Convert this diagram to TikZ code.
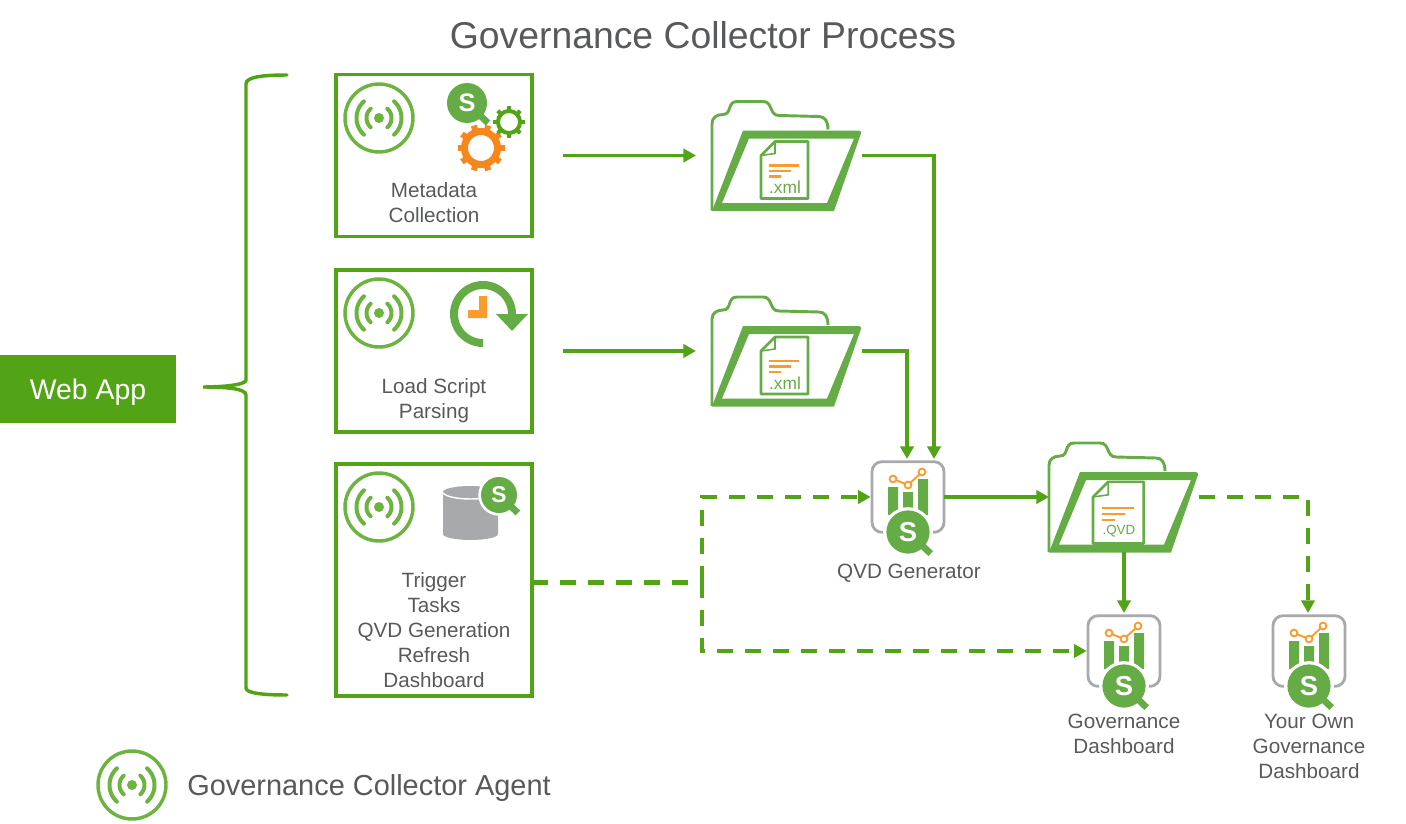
\documentclass[tikz,border=0pt]{standalone}
\usepackage{fontspec}
\setmainfont{Liberation Sans}
\usetikzlibrary{arrows.meta}
\definecolor{lineGreen}{HTML}{52A315}
\definecolor{iconGreen}{HTML}{65AC46}
\definecolor{agentGreen}{HTML}{6CB33F}
\definecolor{iconOrange}{HTML}{F7861B}
\definecolor{chartOrange}{HTML}{F99B2D}
\definecolor{iconGrey}{HTML}{A7A9AC}
\definecolor{textGrey}{HTML}{58595B}
\tikzset{
	flow/.style={draw=lineGreen,line width=2.7pt,-{Triangle[length=9.5pt,width=10pt]}},
	dashflow/.style={flow,dash pattern=on 12pt off 9pt},
	stepbox/.style={draw=lineGreen,line width=2.7pt,minimum width=147pt,outer sep=0pt,inner sep=0pt},
	appbox/.style={draw=iconGrey,line width=2.1pt,rounded corners=7.5pt,minimum width=54pt,minimum height=53pt,outer sep=0pt,inner sep=0pt},
	folderbox/.style={minimum width=112.5pt,minimum height=82.5pt,outer sep=0pt,inner sep=0pt},
	label/.style={text=textGrey,font=\fontsize{15.5}{18.75}\selectfont,align=center},
	pics/agent/.style={code={
		\draw[agentGreen,line width=2.6pt] (0,0) circle (34);
		\fill[agentGreen] (0,0) circle (5);
		\foreach \r in {12.5,22.5}{
			\draw[agentGreen,line width=3pt,line cap=round] plot[domain=-48:48,samples=20] (\x:\r);
			\draw[agentGreen,line width=3pt,line cap=round] plot[domain=132:228,samples=20] (\x:\r);
		}
	}},
	pics/qmag/.style={code={
		\fill[white] (0,0) circle (23);
		\draw[iconGreen,line width=5pt] (0,0) -- (21,20);
		\fill[iconGreen] (0,0) circle (20);
		\node[text=white,font=\fontsize{19}{19}\bfseries\selectfont,transform shape,inner sep=0pt] (-s) at (0,0) {S};
	}},
	pics/gear/.style n args={4}{code={
		\draw[#1,line width=#2] (0,0) circle (16.5);
		\foreach \i in {1,...,#4}
			\draw[#1,line width=#3] ({\i*360/#4}:18) -- ({\i*360/#4}:23.5);
	}},
	pics/docfile/.style={code={
		\draw[iconGreen,line width=2pt,line join=round] (-26,0) -- (-12,-14) -- (21,-14) -- (21,43) -- (-26,43) -- cycle;
		\draw[iconGreen,line width=1.2pt] (-12,-14) -- (-12,-2) -- (-26,0);
		\draw[chartOrange,line width=1.6pt] (-18,10) -- (12,10) (-18,15.5) -- (4,15.5) (-18,21) -- (-6,21);
		\node[text=iconGreen,inner sep=0pt] (-ext) at (-2,32) {#1};
	}},
	pics/folder/.style={code={
		\draw[iconGreen,line width=2.2pt] (-75,55) -- (-75,-32) .. controls (-75,-38) and (-70,-41) .. (-64,-41) .. controls (-55,-41) and (-60,-54) .. (-50,-54) -- (-24,-54) .. controls (-14,-54) and (-18,-40) .. (-8,-40) -- (32,-39) .. controls (38,-39) and (41,-34) .. (41,-26);
		\fill[iconGreen,even odd rule] (-75,55.5) -- (-44,-25) [rounded corners=2.5pt] -- (75,-25) [sharp corners] -- (47,55.5) -- cycle (-65,47.5) -- (-38,-17) -- (67,-17) -- (40,47.5) -- cycle;
	}},
	pics/dash/.style={code={
		\fill[iconGreen] (-20,-10) rectangle (-10,18) (-5,-5) rectangle (5,18) (10,-18) rectangle (20,18);
		\draw[chartOrange,line width=1.4pt] (-15,-18) -- (0,-12) -- (14,-25);
		\draw[chartOrange,line width=1.4pt,fill=white] (-15,-18) circle (3.4) (0,-12) circle (3.4) (14,-25) circle (3.4);
		\pic[scale=1.08] (-mag) at (0,35) {qmag};
	}},
}
\begin{document}
\begin{tikzpicture}[x=0.75pt,y=-0.75pt]
	\useasboundingbox (0,0) rectangle (1406,824);
	\node[text=textGrey,font=\fontsize{28}{28}\selectfont] (title) at (703,35) {Governance Collector Process};

	\node[fill=lineGreen,text=white,font=\fontsize{21.3}{24}\selectfont,text depth=0pt,minimum width=132pt,minimum height=51pt,outer sep=0pt] (web) at (88,389) {Web App};
	\draw[lineGreen,line width=2.6pt,line cap=round] (287,75) .. controls (262,75) and (246,77) .. (246,84) -- (246,380) .. controls (246,385) and (222,387) .. (203,387) .. controls (222,387) and (246,388) .. (246,395) -- (246,688) .. controls (246,693) and (262,695) .. (287,695);

	\node[stepbox,minimum height=121.5pt] (meta) at (434,155.5) {};
	\node[stepbox,minimum height=121.5pt] (load) at (434,351) {};
	\node[stepbox,minimum height=174pt] (trigger) at (434,580) {};
	\node[label] (metaText) at (434,203) {Metadata\\Collection};
	\node[label] (loadText) at (434,400.5) {Load Script\\Parsing};
	\node[label] (triggerText) at (434,630) {Trigger\\Tasks\\QVD Generation\\Refresh\\Dashboard};

	\pic (metaAgent) at (379,118) {agent};
	\pic (loadAgent) at (379,313) {agent};
	\pic (triggerAgent) at (379,507) {agent};
	\pic (legendAgent) at (132,785) {agent};
	\node[text=textGrey,font=\fontsize{21.7}{24}\selectfont,text depth=0pt,anchor=west,inner sep=0pt] (legend) at (187,785) {Governance Collector Agent};

	\pic (gearBig) at (481,148) {gear={iconOrange}{5.25pt}{4.5pt}{10}};
	\pic[scale=0.67] (gearSmall) at (509,122) {gear={lineGreen}{3pt}{3pt}{8}};
	\pic (metaMag) at (467,103) {qmag};

	\draw[iconGreen,line width=6pt] plot[domain=90:360,samples=40] ([shift={(483,314)}]\x:29);
	\fill[iconGreen] (496,314) -- (528,314) -- (512,331) -- cycle;
	\fill[chartOrange] (479,296) -- (487,296) -- (487,318) -- (468,318) -- (468,310) -- (479,310) -- cycle;

	\fill[iconGrey] (443,492) -- (498,492) -- (498,534) arc (0:180:27.5 and 6) -- cycle;
	\fill[iconGrey] (470.5,492) ellipse (27.5 and 6);
	\draw[white,line width=1.1pt] (443,493) .. controls (450,501) and (491,501) .. (498,493);
	\pic[scale=0.9] (dbMag) at (499,495) {qmag};

	\node[folderbox] (xmlA) at (787,155.5) {};
	\node[folderbox] (xmlB) at (787,351) {};
	\node[folderbox] (qvd) at (1124,497) {};
	\pic (xmlAFolder) at (xmlA) {folder};
	\pic (xmlBFolder) at (xmlB) {folder};
	\pic (qvdFolder) at (qvd) {folder};
	\pic (xmlADoc) at (xmlA) {docfile={\fontsize{13}{13}\selectfont .xml}};
	\pic (xmlBDoc) at (xmlB) {docfile={\fontsize{13}{13}\selectfont .xml}};
	\pic[scale=1.08] (qvdDoc) at (1121,497) {docfile={\fontsize{10}{10}\selectfont .QVD}};

	\node[appbox] (gen) at (908,497) {};
	\node[appbox] (gov) at (1124,651) {};
	\node[appbox] (own) at (1309,651) {};
	\pic (genIcon) at (gen) {dash};
	\pic (govIcon) at (gov) {dash};
	\pic (ownIcon) at (own) {dash};
	\node[label] (genText) at (909,573) {QVD Generator};
	\node[label] (govText) at (1124,733.5) {Governance\\Dashboard};
	\node[label] (ownText) at (1309,746) {Your Own\\Governance\\Dashboard};

	\coordinate (split) at (702,582);
	\draw[flow,shorten <=23.25pt,shorten >=12pt] (meta.east) -- (xmlA.west);
	\draw[flow,shorten <=23.25pt,shorten >=12pt] (load.east) -- (xmlB.west);
	\draw[flow,shorten >=2pt] (xmlA.east) -| ([xshift=19.5pt]gen.north);
	\draw[flow,shorten >=2pt] (xmlB.east) -| ([xshift=-0.75pt]gen.north);
	\draw[flow] (gen.east) -- (qvd.west);
	\draw[flow,shorten >=2pt] (qvd.south) -- (gov.north);
	\draw[dashflow,shorten >=2pt] (qvd.east) -| ([xshift=-0.75pt]own.north);
	\draw[dashflow,-,line width=3.75pt] ([yshift=-1.5pt]trigger.east) -- (split);
	\draw[dashflow,shorten >=1pt] (split) |- (gen.west);
	\draw[dashflow,shorten >=1pt] (split) |- (gov.west);
\end{tikzpicture}
\end{document}
